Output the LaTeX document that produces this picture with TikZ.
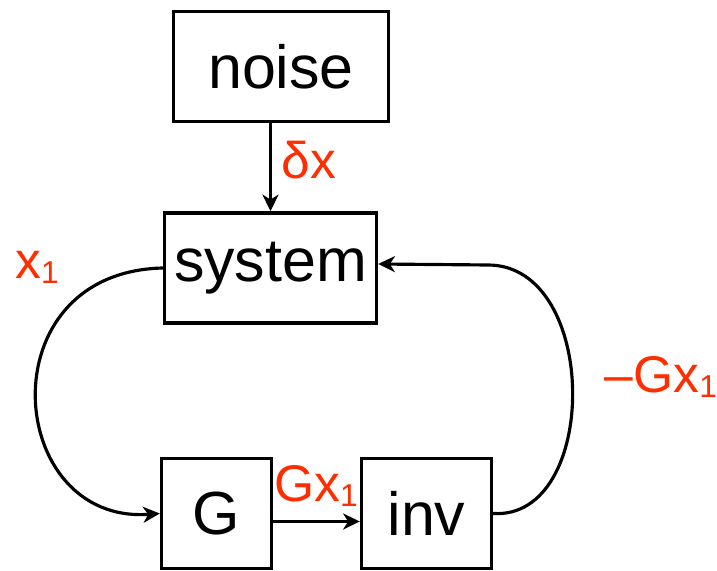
\documentclass[tikz,border=0pt]{standalone}
\usepackage{fontspec}
\setmainfont{Liberation Sans}
\usepackage{xcolor}
\usetikzlibrary{arrows.meta}
\definecolor{labelred}{RGB}{255,45,0}
\newcommand{\lowone}{\raisebox{-0.1em}{\fontsize{27}{30}\selectfont 1}}

\begin{document}
\begin{tikzpicture}[x=0.03cm,y=-0.03cm,
  block/.style={draw=black,line width=2.9pt,minimum height=3.3cm,inner sep=0pt,font=\fontsize{52}{60}\selectfont},
  wire/.style={line width=2.7pt,-{Stealth[length=0.5cm,width=0.48cm,inset=0.15cm]}},
  lbl/.style={text=labelred,inner sep=0pt,font=\fontsize{44}{50}\selectfont}]
\useasboundingbox (0,0) rectangle (717,571);
\node[block,minimum width=6.45cm] (noise) at (281,66.5) {noise};
\node[block,minimum width=6.36cm] (system) at (270.5,268) {system};
\node[block,minimum width=3.3cm] (G) at (216.5,513.5) {G};
\node[block,minimum width=3.9cm] (inv) at (426.5,513.5) {inv};
\coordinate (fbtop) at (488,265);
\draw[wire] (noise.south -| system.north) -- (system.north);
\draw[wire] (system.west) .. controls (-15,272) and (5,525) .. (G.west);
\draw[wire] ([yshift=-0.24cm]G.east) -- ([yshift=-0.24cm]inv.west);
\draw[wire] (inv.east) .. controls (600,520) and (600,265) .. (fbtop) -- ([yshift=0.12cm]system.east);
\node[lbl] (dx) at (309,160) {δx};
\node[lbl] (x1) at (37,267) {x\lowone};
\node[lbl] (gx1) at (316,486) {Gx\lowone};
\node[lbl] (mgx1) at (661,377) {–Gx\lowone};
\end{tikzpicture}
\end{document}
